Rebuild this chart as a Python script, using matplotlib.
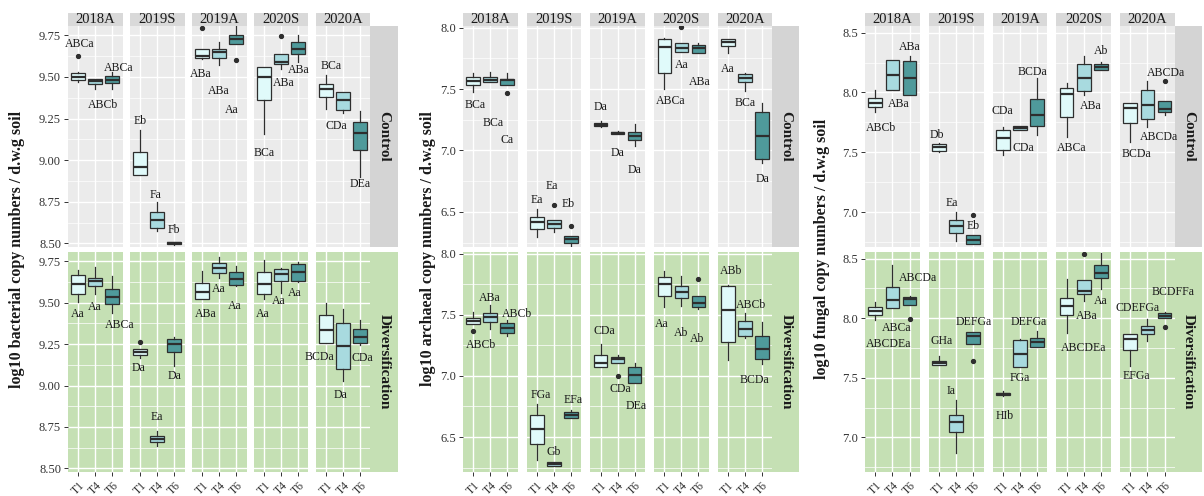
import matplotlib.pyplot as plt
from matplotlib.patches import Rectangle

plt.rcParams['font.family'] = ['Liberation Serif', 'DejaVu Serif']

seasons = ["2018A", "2019S", "2019A", "2020S", "2020A"]
treatments = ["T1", "T4", "T6"]
managements = ["Control", "Diversification"]

# box statistics per season (rows) and treatment T1/T4/T6:
# (lower whisker, q1, median, q3, upper whisker)
bac_control = [
    [(9.47, 9.484, 9.50, 9.524, 9.53), (9.43, 9.46, 9.474, 9.488, 9.49), (9.43, 9.466, 9.484, 9.504, 9.53)],
    [(8.91, 8.91, 8.96, 9.05, 9.18), (8.574, 8.594, 8.64, 8.686, 8.75), (8.49, 8.494, 8.50, 8.506, 8.51)],
    [(9.61, 9.616, 9.624, 9.67, 9.67), (9.57, 9.616, 9.65, 9.67, 9.71), (9.696, 9.696, 9.73, 9.75, 9.804)],
    [(9.16, 9.364, 9.50, 9.56, 9.56), (9.55, 9.58, 9.59, 9.636, 9.636), (9.59, 9.64, 9.67, 9.71, 9.75)],
    [(9.31, 9.38, 9.43, 9.46, 9.51), (9.284, 9.30, 9.36, 9.41, 9.41), (8.90, 9.06, 9.164, 9.23, 9.294)],
]
bac_control_out = [[[9.624], [], []], [[], [], []], [[9.794], [], [9.604]], [[], [9.744], []], [[], [], []]]
bac_control_sig = [["ABCa", "ABCb", "ABCa"], ["Eb", "Fa", "Fb"], ["ABa", "ABa", "Aa"],
                   ["BCa", "ABa", "ABa"], ["BCa", "CDa", "DEa"]]

bac_div = [
    [(9.505, 9.55, 9.614, 9.67, 9.70), (9.555, 9.60, 9.63, 9.65, 9.714), (9.435, 9.49, 9.535, 9.583, 9.66)],
    [(9.168, 9.182, 9.202, 9.218, 9.218), (8.637, 8.657, 8.677, 8.697, 8.723), (9.118, 9.202, 9.252, 9.282, 9.295)],
    [(9.523, 9.523, 9.563, 9.62, 9.69), (9.65, 9.68, 9.71, 9.74, 9.776), (9.60, 9.606, 9.646, 9.684, 9.72)],
    [(9.52, 9.555, 9.614, 9.684, 9.76), (9.56, 9.63, 9.676, 9.704, 9.71), (9.624, 9.63, 9.686, 9.736, 9.744)],
    [(9.254, 9.254, 9.333, 9.423, 9.50), (9.028, 9.102, 9.238, 9.375, 9.463), (9.242, 9.258, 9.295, 9.339, 9.393)],
]
bac_div_out = [[[], [], []], [[9.263], [], []], [[], [], []], [[], [], []], [[], [], []]]
bac_div_sig = [["Aa", "Aa", "ABCa"], ["Da", "Ea", "Da"], ["ABa", "Aa", "Aa"],
               ["Aa", "Aa", "Aa"], ["BCDa", "Da", "CDa"]]

arc_control = [
    [(7.473, 7.535, 7.568, 7.595, 7.627), (7.554, 7.554, 7.576, 7.595, 7.635), (7.532, 7.532, 7.573, 7.58, 7.627)],
    [(6.297, 6.357, 6.419, 6.46, 6.52), (6.338, 6.365, 6.40, 6.432, 6.432), (6.216, 6.243, 6.276, 6.303, 6.303)],
    [(7.19, 7.197, 7.21, 7.224, 7.24), (7.13, 7.135, 7.146, 7.154, 7.16), (7.04, 7.081, 7.12, 7.154, 7.216)],
    [(7.50, 7.627, 7.838, 7.905, 7.914), (7.80, 7.805, 7.83, 7.878, 7.878), (7.797, 7.797, 7.83, 7.857, 7.878)],
    [(7.79, 7.851, 7.884, 7.905, 7.905), (7.486, 7.554, 7.589, 7.62, 7.627), (6.897, 6.932, 7.12, 7.316, 7.384)],
]
arc_control_out = [[[], [], [7.465]], [[], [6.554], [6.384]], [[], [], []], [[], [8.005], []], [[], [], []]]
arc_control_sig = [["BCa", "BCa", "Ca"], ["Ea", "Ea", "Eb"], ["Da", "Da", "Da"],
                   ["ABCa", "Aa", "ABa"], ["Aa", "BCa", "Da"]]

arc_div = [
    [(7.422, 7.422, 7.449, 7.476, 7.523), (7.386, 7.441, 7.482, 7.515, 7.577), (7.324, 7.354, 7.395, 7.433, 7.46)],
    [(6.31, 6.44, 6.563, 6.677, 6.773), (6.26, 6.26, 6.276, 6.296, 6.296), (6.658, 6.658, 6.683, 6.705, 6.718)],
    [(7.073, 7.073, 7.106, 7.168, 7.264), (7.106, 7.106, 7.135, 7.155, 7.168), (6.945, 6.945, 7.005, 7.073, 7.106)],
    [(7.564, 7.65, 7.75, 7.81, 7.858), (7.572, 7.64, 7.686, 7.733, 7.815), (7.55, 7.564, 7.596, 7.65, 7.65)],
    [(7.127, 7.277, 7.536, 7.735, 7.746), (7.313, 7.326, 7.386, 7.449, 7.515), (7.095, 7.141, 7.223, 7.326, 7.44)],
]
arc_div_out = [[[7.365], [], []], [[], [], []], [[], [6.999], []], [[], [], [7.79]], [[], [], []]]
arc_div_sig = [["ABCb", "ABa", "ABCb"], ["FGa", "Gb", "EFa"], ["CDa", "CDa", "DEa"],
               ["Aa", "Ab", "Ab"], ["ABb", "ABCb", "BCDa"]]

fun_control = [
    [(7.834, 7.879, 7.912, 7.954, 8.019), (8.019, 8.019, 8.147, 8.271, 8.275), (7.982, 7.982, 8.119, 8.26, 8.304)],
    [(7.50, 7.515, 7.543, 7.568, 7.58), (6.76, 6.826, 6.882, 6.933, 7.003), (6.737, 6.737, 6.765, 6.812, 6.812)],
    [(7.478, 7.52, 7.618, 7.688, 7.711), (7.688, 7.688, 7.702, 7.716, 7.716), (7.646, 7.716, 7.814, 7.949, 8.122)],
    [(7.632, 7.795, 7.988, 8.038, 8.08), (7.982, 8.01, 8.122, 8.234, 8.304), (8.184, 8.184, 8.212, 8.234, 8.254)],
    [(7.59, 7.744, 7.87, 7.912, 7.912), (7.71, 7.778, 7.898, 8.024, 8.094), (7.814, 7.834, 7.862, 7.926, 7.926)],
]
fun_control_out = [[[], [], []], [[], [], [6.98]], [[], [], []], [[], [], []], [[], [], [8.10]]]
fun_control_sig = [["ABCb", "ABa", "ABa"], ["Db", "Ea", "Eb"], ["CDa", "CDa", "BCDa"],
                   ["ABCa", "ABa", "Ab"], ["BCDa", "ABCDa", "ABCDa"]]

fun_div = [
    [(7.986, 8.028, 8.061, 8.094, 8.136), (8.083, 8.083, 8.153, 8.264, 8.444), (8.111, 8.111, 8.158, 8.178, 8.186)],
    [(7.611, 7.611, 7.625, 7.639, 7.68), (6.867, 7.047, 7.131, 7.186, 7.311), (7.783, 7.783, 7.853, 7.881, 7.881)],
    [(7.345, 7.353, 7.364, 7.375, 7.39), (7.589, 7.589, 7.70, 7.817, 7.825), (7.761, 7.761, 7.797, 7.833, 7.894)],
    [(7.875, 8.028, 8.103, 8.172, 8.325), (8.144, 8.20, 8.228, 8.317, 8.317), (8.242, 8.333, 8.381, 8.442, 8.547)],
    [(7.603, 7.736, 7.825, 7.867, 7.867), (7.811, 7.867, 7.903, 7.936, 7.992), (8.0, 8.0, 8.019, 8.047, 8.05)],
]
fun_div_out = [[[], [], [7.997]], [[], [], [7.639]], [[], [], []], [[], [8.542], []], [[], [], [7.928]]]
fun_div_sig = [["ABCDEa", "ABCa", "ABCDa"], ["GHa", "Ia", "DEFGa"], ["HIb", "FGa", "DEFGa"],
               ["ABCDEa", "ABa", "Aa"], ["EFGa", "CDEFGa", "BCDFFa"]]

# where each letter group sits: (x offset from its box, y)
bac_control_pos = [[(0.1, 9.70), (0.45, 9.33), (0.35, 9.554)],
                   [(0, 9.235), (-0.1, 8.79), (0, 8.58)],
                   [(-0.1, 9.516), (0, 9.416), (-0.25, 9.304)],
                   [(0, 9.044), (0.15, 9.466), (0, 9.544)],
                   [(0.3, 9.564), (-0.4, 9.204), (0, 8.854)]]
bac_div_pos = [[(0, 9.43), (0, 9.473), (0.45, 9.363)],
               [(-0.1, 9.108), (0, 8.81), (0, 9.058)],
               [(0.2, 9.43), (0, 9.583), (-0.1, 9.48)],
               [(-0.1, 9.43), (-0.15, 9.51), (-0.2, 9.56)],
               [(-0.4, 9.172), (-0.15, 8.94), (0.15, 9.168)]]
arc_control_pos = [[(0.1, 7.37), (0.15, 7.22), (0, 7.086)],
                   [(0, 6.6), (-0.15, 6.711), (-0.15, 6.568)],
                   [(0, 7.35), (0, 6.98), (0, 6.838)],
                   [(0.35, 7.40), (0, 7.695), (0.1, 7.554)],
                   [(0, 7.662), (0, 7.39), (0, 6.77)]]
arc_div_pos = [[(0.45, 7.25), (0, 7.64), (0.6, 7.504)],
               [(0.2, 6.84), (0, 6.377), (0.1, 6.806)],
               [(0.2, 7.367), (0.15, 6.89), (0.1, 6.75)],
               [(-0.15, 7.427), (0, 7.35), (-0.1, 7.30)],
               [(0.2, 7.855), (0.35, 7.577), (-0.45, 6.969)]]
fun_control_pos = [[(0.35, 7.70), (0.4, 7.904), (0, 8.38)],
                   [(-0.15, 7.646), (-0.25, 7.078), (0, 6.882)],
                   [(0, 7.842), (0.2, 7.54), (-0.25, 8.17)],
                   [(0.3, 7.54), (0.4, 7.89), (0, 8.346)],
                   [(0.35, 7.484), (0.65, 7.627), (0.1, 8.164)]]
fun_div_pos = [[(0.8, 7.783), (0.25, 7.917), (0.5, 8.333)],
               [(0.15, 7.806), (-0.3, 7.389), (0, 7.964)],
               [(0.1, 7.18), (0, 7.497), (-0.5, 7.964)],
               [(1.0, 7.747), (0.2, 8.019), (0, 8.144)],
               [(0.35, 7.511), (-0.55, 8.089), (0.5, 8.222)]]

genes = {
    'bac': dict(title="log10 bacterial copy numbers / d.w.g soil",
                rows=[(bac_control, bac_control_out, bac_control_sig, bac_control_pos),
                      (bac_div, bac_div_out, bac_div_sig, bac_div_pos)],
                ylim=(8.478, 9.806), ticks=[8.50, 8.75, 9.00, 9.25, 9.50, 9.75], fmt="{:.2f}"),
    'arc': dict(title="log10 archaeal copy numbers / d.w.g soil",
                rows=[(arc_control, arc_control_out, arc_control_sig, arc_control_pos),
                      (arc_div, arc_div_out, arc_div_sig, arc_div_pos)],
                ylim=(6.214, 8.013), ticks=[6.5, 7.0, 7.5, 8.0], fmt="{:.1f}"),
    'fun': dict(title="log10 fungal copy numbers / d.w.g soil",
                rows=[(fun_control, fun_control_out, fun_control_sig, fun_control_pos),
                      (fun_div, fun_div_out, fun_div_sig, fun_div_pos)],
                ylim=(6.71, 8.555), ticks=[7.0, 7.5, 8.0, 8.5], fmt="{:.1f}"),
}

# layout in pixels: facet left edge, step between facets, facet width, y-label x
layout = {'bac': (68, 62.0, 54.5, 17), 'arc': (463, 63.7, 54.5, 428), 'fun': (865, 63.75, 54.8, 822)}
row_y = [(26, 247), (252, 472)]
strip_top = (13, 26)
strip_w = 27

fills = ['#E0FAFA', '#A8DADF', '#4F9A9B']
EDGE = '#2E2E2E'
GRAY_BG = '#EBEBEB'
GREEN_BG = '#C5E0B4'
STRIP_GRAY = '#D9D9D9'
row_bg = [GRAY_BG, GREEN_BG]
row_strip = ['#D4D4D4', GREEN_BG]

W, H = 1204, 496
fig = plt.figure(figsize=(W / 100, H / 100), dpi=100)


def px_axes(x0, y0, x1, y1, **kw):
    return fig.add_axes([x0 / W, 1 - y1 / H, (x1 - x0) / W, (y1 - y0) / H], **kw)


def strip(x0, y0, x1, y1, color, text, rot, bold):
    sa = px_axes(x0, y0, x1, y1)
    sa.set_axis_off()
    sa.add_patch(Rectangle((0, 0), 1, 1, transform=sa.transAxes, color=color))
    sa.text(0.5, 0.5, text, ha='center', va='center', rotation=rot, fontsize=11 if bold else 10.5,
            fontweight='bold' if bold else 'normal', color='#1A1A1A', transform=sa.transAxes)


for key, g in genes.items():
    left, step, fw, ylab_x = layout[key]
    right = left + 4 * step + fw
    for j, s in enumerate(seasons):
        x0 = left + j * step
        strip(x0, strip_top[0], x0 + fw, strip_top[1], STRIP_GRAY, s, 0, False)
    for r, m in enumerate(managements):
        strip(right, row_y[r][0], right + strip_w, row_y[r][1], row_strip[r], m, -90, True)

    lo, hi = g['ylim']
    half = (g['ticks'][1] - g['ticks'][0]) / 2
    minors = [g['ticks'][0] - half] + [t + half for t in g['ticks']]
    for r, (stats, outs, sigs, pos) in enumerate(g['rows']):
        for j in range(len(seasons)):
            x0 = left + j * step
            ax = px_axes(x0, row_y[r][0], x0 + fw, row_y[r][1])
            ax.set_facecolor(row_bg[r])
            for sp in ax.spines.values():
                sp.set_visible(False)
            ax.set_xlim(0.4, 3.6)
            ax.set_ylim(lo, hi)
            ax.set_xticks([1, 2, 3])
            ax.set_yticks(g['ticks'])
            ax.set_yticks([v for v in minors if lo < v < hi], minor=True)
            ax.grid(which='major', color='white', linewidth=1.0)
            ax.grid(which='minor', axis='y', color='white', linewidth=0.5)
            ax.set_axisbelow(True)
            ax.tick_params(which='minor', length=0)
            ax.tick_params(which='major', color='#333333', width=0.7, length=3, pad=2,
                           labelsize=9, labelcolor='#333333')
            if j == 0:
                ax.set_yticklabels([g['fmt'].format(t) for t in g['ticks']])
            else:
                ax.tick_params(axis='y', length=0, labelleft=False)
            if r == 1:
                ax.set_xticklabels(treatments, rotation=45, ha='right', va='top',
                                   rotation_mode='anchor', fontsize=8.5)
                ax.tick_params(axis='x', pad=2)
            else:
                ax.tick_params(axis='x', length=0, labelbottom=False)

            bstats = [dict(whislo=a, q1=b, med=c, q3=d, whishi=e, fliers=fl)
                      for (a, b, c, d, e), fl in zip(stats[j], outs[j])]
            art = ax.bxp(bstats, positions=[1, 2, 3], widths=0.8, patch_artist=True,
                         showcaps=False, manage_ticks=False,
                         boxprops=dict(edgecolor=EDGE, linewidth=0.9),
                         whiskerprops=dict(color=EDGE, linewidth=0.9),
                         medianprops=dict(color=EDGE, linewidth=1.6, solid_capstyle='butt'),
                         flierprops=dict(marker='o', markersize=2.8, markerfacecolor=EDGE,
                                         markeredgecolor=EDGE))
            for patch, c in zip(art['boxes'], fills):
                patch.set_facecolor(c)
            # letters go on the figure so neighbouring facets and strips don't hide them
            for k in range(3):
                dx, y = pos[j][k]
                fig.text(k + 1 + dx, y, sigs[j][k], transform=ax.transData, ha='center',
                         va='center', fontsize=8.5, color='#1A1A1A')

    fig.text(ylab_x / W, 1 - 249 / H, g['title'], rotation=90, ha='center', va='center',
             fontsize=11.5, fontweight='bold', color='#1A1A1A')

fig.savefig('out.png', dpi=100)
